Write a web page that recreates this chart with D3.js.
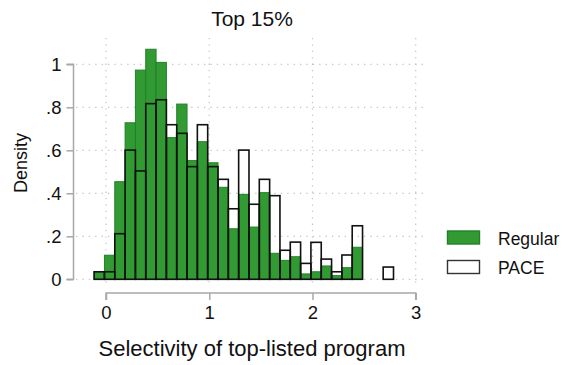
<!DOCTYPE html>
<html>
<head>
<meta charset="utf-8">
<script src="https://cdn.jsdelivr.net/npm/d3@7"></script>
<style>
  html, body { margin: 0; padding: 0; background: #fff; }
  svg { display: block; font-family: "Liberation Sans", Arial, sans-serif; }
</style>
</head>
<body>
<svg id="chart" width="574" height="365"></svg>
<script>
// Histogram bins: left edge of the first bin and the common bin width
const binStart = -0.115;
const binWidth = 0.1;

// Density per bin for each group
const regularDensity = [0.035, 0.112, 0.454, 0.728, 0.973, 1.070, 1.009, 0.659, 0.815, 0.552,
                        0.640, 0.542, 0.428, 0.235, 0.395, 0.243, 0.403, 0.121, 0.088, 0.105,
                        0.025, 0.035, 0.062, 0.017, 0.054, 0.149, 0, 0, 0];
const paceDensity    = [0.035, 0.035, 0.212, 0.601, 0.504, 0.817, 0.835, 0.719, 0.679, 0.524,
                        0.719, 0.524, 0.465, 0.328, 0.601, 0.349, 0.465, 0.389, 0.135, 0.173,
                        0.074, 0.172, 0.094, 0.035, 0.113, 0.249, 0, 0, 0.057];

const xTicks = [0, 1, 2, 3];
const yTicks = [0, 0.2, 0.4, 0.6, 0.8, 1];
const yTickLabels = ["0", ".2", ".4", ".6", ".8", "1"];
const seriesNames = ["Regular", "PACE"];

const svg = d3.select("#chart");
const x = d3.scaleLinear().domain([0, 3]).range([106, 415.7]);
const y = d3.scaleLinear().domain([0, 1]).range([279.3, 64.3]);

const green = "#329a32", greenEdge = "#22802a";
const gridColor = "#c4c4c4", axisColor = "#a8a8a8";
const font = "Liberation Sans, Arial, sans-serif";

// Title
svg.append("text").attr("x", 252).attr("y", 26).attr("text-anchor", "middle")
  .attr("font-size", 21).attr("fill", "#111").text("Top 15%");

// Dotted grid
const grid = svg.append("g").attr("stroke", gridColor).attr("stroke-width", 1.2)
  .attr("stroke-dasharray", "1.3,5.1");
grid.selectAll("line.h").data(yTicks).join("line").attr("class", "h")
  .attr("x1", 76).attr("x2", 426).attr("y1", d => y(d)).attr("y2", d => y(d));
grid.selectAll("line.v").data(xTicks).join("line").attr("class", "v")
  .attr("y1", 38).attr("y2", 286).attr("x1", d => x(d)).attr("x2", d => x(d));

// Bins
const bins = regularDensity.map((r, i) => ({
  x0: binStart + i * binWidth, x1: binStart + (i + 1) * binWidth, reg: r, pace: paceDensity[i]
}));

svg.append("g").selectAll("rect").data(bins.filter(d => d.reg > 0)).join("rect")
  .attr("x", d => x(d.x0)).attr("width", d => x(d.x1) - x(d.x0))
  .attr("y", d => y(d.reg)).attr("height", d => y(0) - y(d.reg))
  .attr("fill", green).attr("stroke", greenEdge).attr("stroke-width", 1);

svg.append("g").selectAll("rect").data(bins.filter(d => d.pace > 0)).join("rect")
  .attr("x", d => x(d.x0)).attr("width", d => x(d.x1) - x(d.x0))
  .attr("y", d => y(d.pace)).attr("height", d => y(0) - y(d.pace))
  .attr("fill", "none").attr("stroke", "#111").attr("stroke-width", 1.6);

// Y axis
const yAxis = svg.append("g").attr("transform", "translate(73.5,0)")
  .call(d3.axisLeft(y).tickValues(yTicks).tickSize(7).tickPadding(5)
    .tickFormat((d, i) => yTickLabels[i]));
yAxis.select(".domain").attr("stroke", axisColor).attr("stroke-width", 1.5)
  .attr("d", `M-7,${y(1)}H0V${y(0)}H-7`);
yAxis.selectAll(".tick line").attr("stroke", axisColor).attr("stroke-width", 1.5);
yAxis.selectAll(".tick text").attr("font-size", 18.5).attr("fill", "#111")
  .attr("font-family", font).attr("dy", "0.36em");

// X axis
const xAxis = svg.append("g").attr("transform", "translate(0,293)")
  .call(d3.axisBottom(x).tickValues(xTicks).tickSize(7).tickPadding(5).tickFormat(d3.format("d")));
xAxis.select(".domain").attr("stroke", axisColor).attr("stroke-width", 1.5)
  .attr("d", `M${x(0)},7V0H${x(3)}V7`);
xAxis.selectAll(".tick line").attr("stroke", axisColor).attr("stroke-width", 1.5);
xAxis.selectAll(".tick text").attr("font-size", 18.5).attr("fill", "#111")
  .attr("font-family", font).attr("dy", "0.75em");

// Axis titles
svg.append("text").attr("transform", "translate(27,163) rotate(-90)")
  .attr("text-anchor", "middle").attr("font-size", 18).attr("fill", "#111").text("Density");
svg.append("text").attr("x", 252).attr("y", 356).attr("text-anchor", "middle")
  .attr("font-size", 22).attr("fill", "#111").text("Selectivity of top-listed program");

// Legend
const legend = svg.append("g");
const legendItems = [
  { name: seriesNames[0], fill: green, stroke: greenEdge, y: 231 },
  { name: seriesNames[1], fill: "#fff", stroke: "#333", y: 260.5 }
];
legend.selectAll("rect").data(legendItems).join("rect")
  .attr("x", 447.5).attr("y", d => d.y).attr("width", 32).attr("height", 13)
  .attr("fill", d => d.fill).attr("stroke", d => d.stroke).attr("stroke-width", 1.4);
legend.selectAll("text").data(legendItems).join("text")
  .attr("x", 498).attr("y", d => d.y + 13.5).attr("font-size", 17.5).attr("fill", "#111")
  .text(d => d.name);
</script>
</body>
</html>
